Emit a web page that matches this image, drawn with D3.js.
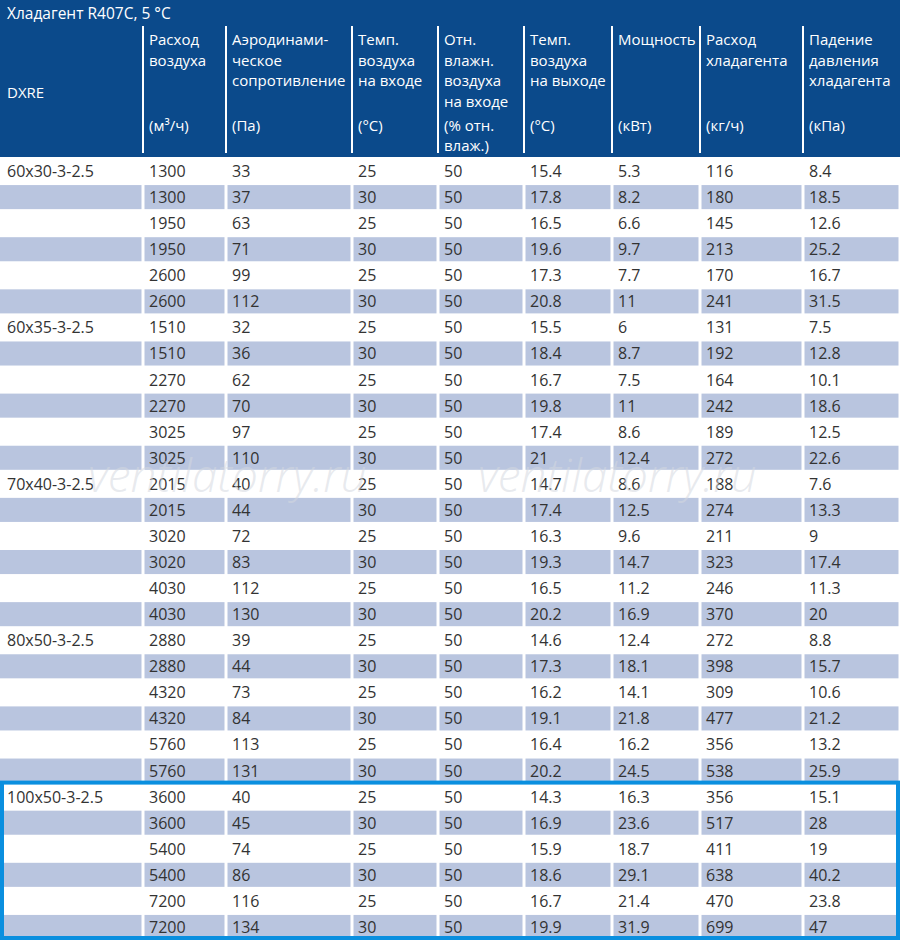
<!DOCTYPE html>
<html lang="en">
<head>
<meta charset="utf-8">
<style>
  body { margin: 0; background: #fff; }
  text { font-family: "Open Sans", "Noto Sans", sans-serif; }
</style>
<script src="https://d3js.org/d3.v7.min.js"></script>
</head>
<body>
<script>
// ---- data ----
var title = "Хладагент R407C, 5 °C";
var headers = [
  ["Расход", "воздуха"],
  ["Аэродинами-", "ческое", "сопротивление"],
  ["Темп.", "воздуха", "на входе"],
  ["Отн.", "влажн.", "воздуха", "на входе"],
  ["Темп.", "воздуха", "на выходе"],
  ["Мощность"],
  ["Расход", "хладагента"],
  ["Падение", "давления", "хладагента"]
];
var units = [["(м³/ч)"], ["(Па)"], ["(°C)"], ["(% отн.", "влаж.)"], ["(°C)"], ["(кВт)"], ["(кг/ч)"], ["(кПа)"]];
var models = ["60x30-3-2.5", "60x35-3-2.5", "70x40-3-2.5", "80x50-3-2.5", "100x50-3-2.5"];
var airflow = [1300,1300,1950,1950,2600,2600, 1510,1510,2270,2270,3025,3025, 2015,2015,3020,3020,4030,4030, 2880,2880,4320,4320,5760,5760, 3600,3600,5400,5400,7200,7200];
var pressure = [33,37,63,71,99,112, 32,36,62,70,97,110, 40,44,72,83,112,130, 39,44,73,84,113,131, 40,45,74,86,116,134];
var tempIn = [25,30,25,30,25,30, 25,30,25,30,25,30, 25,30,25,30,25,30, 25,30,25,30,25,30, 25,30,25,30,25,30];
var humidity = [50,50,50,50,50,50, 50,50,50,50,50,50, 50,50,50,50,50,50, 50,50,50,50,50,50, 50,50,50,50,50,50];
var tempOut = ["15.4","17.8","16.5","19.6","17.3","20.8", "15.5","18.4","16.7","19.8","17.4","21", "14.7","17.4","16.3","19.3","16.5","20.2", "14.6","17.3","16.2","19.1","16.4","20.2", "14.3","16.9","15.9","18.6","16.7","19.9"];
var power = ["5.3","8.2","6.6","9.7","7.7","11", "6","8.7","7.5","11","8.6","12.4", "8.6","12.5","9.6","14.7","11.2","16.9", "12.4","18.1","14.1","21.8","16.2","24.5", "16.3","23.6","18.7","29.1","21.4","31.9"];
var refrig = [116,180,145,213,170,241, 131,192,164,242,189,272, 188,274,211,323,246,370, 272,398,309,477,356,538, 356,517,411,638,470,699];
var dropP = ["8.4","18.5","12.6","25.2","16.7","31.5", "7.5","12.8","10.1","18.6","12.5","22.6", "7.6","13.3","9","17.4","11.3","20", "8.8","15.7","10.6","21.2","13.2","25.9", "15.1","28","19","40.2","23.8","47"];

// ---- layout ----
var width = 900, height = 940;
var headTop = 26, headBottom = 157;
var colEdges = [0, 143, 226, 352, 438, 524, 612, 700, 803, 900];
var rowsPerModel = 6;
var fs = 15;

var svg = d3.select("body").append("svg")
  .attr("width", width).attr("height", height);

var columns = [null, airflow, pressure, tempIn, humidity, tempOut, power, refrig, dropP];
var nRows = airflow.length;
var y = d3.scaleBand().domain(d3.range(nRows)).range([headBottom + 1, height]).paddingInner(0);

// header background
svg.append("rect").attr("x", 0).attr("y", 0).attr("width", width).attr("height", headBottom)
  .attr("fill", "#0b4a8b");
svg.append("text").attr("x", 7).attr("y", 19).attr("fill", "#fff").attr("font-size", fs + 0.5).text(title);

// header column separators
for (var c = 1; c < colEdges.length - 1; c++) {
  svg.append("line").attr("x1", colEdges[c]).attr("x2", colEdges[c])
    .attr("y1", headTop).attr("y2", headBottom - 4)
    .attr("stroke", "#fff").attr("stroke-width", 2);
}
svg.append("text").attr("x", 7).attr("y", 98).attr("fill", "#fff").attr("font-size", fs).text("DXRE");

headers.forEach(function (h, i) {
  var x0 = colEdges[i + 1] + 6;
  h.forEach(function (line, j) {
    svg.append("text").attr("x", x0).attr("y", 45 + j * 20.5)
      .attr("fill", "#fff").attr("font-size", fs).text(line);
  });
  units[i].forEach(function (line, j) {
    svg.append("text").attr("x", x0).attr("y", 131 + j * 20)
      .attr("fill", "#fff").attr("font-size", fs).text(line);
  });
});

// body rows
var rows = svg.selectAll(".row").data(d3.range(nRows)).enter().append("g")
  .attr("class", "row").attr("transform", function (d) { return "translate(0," + y(d) + ")"; });

rows.each(function (r) {
  var g = d3.select(this);
  if (r % 2 === 1) {
    for (var c = 0; c < colEdges.length - 1; c++) {
      g.append("rect").attr("x", colEdges[c] + (c ? 1.5 : 0)).attr("y", 1)
        .attr("width", colEdges[c + 1] - colEdges[c] - (c ? 1.5 : 0) - 1.5)
        .attr("height", y.bandwidth() - 2).attr("fill", "#b9c5df");
    }
  }
  var ty = y.bandwidth() / 2 + 6;
  if (r % rowsPerModel === 0) {
    g.append("text").attr("x", 7).attr("y", ty).attr("fill", "#333")
      .attr("font-size", 16).text(models[r / rowsPerModel]);
  }
  for (var c = 1; c < columns.length; c++) {
    g.append("text").attr("x", colEdges[c] + 6).attr("y", ty).attr("fill", "#333")
      .attr("font-size", 16).text(columns[c][r]);
  }
});

// highlight box around last model
var boxTop = y(nRows - rowsPerModel);
svg.append("rect").attr("x", 2).attr("y", boxTop - 1).attr("width", width - 4)
  .attr("height", height - boxTop - 1).attr("fill", "none")
  .attr("stroke", "#0a8fdf").attr("stroke-width", 4);

// watermark
["ventilatorry.ru", "ventilatorry.ru"].forEach(function (w, i) {
  svg.append("text").attr("x", i ? 478 : 88).attr("y", 492)
    .attr("fill", "#d4d8e0").attr("fill-opacity", 0.55)
    .attr("font-size", 46).attr("font-style", "italic").attr("font-weight", 300).text(w);
});
</script>
</body>
</html>
